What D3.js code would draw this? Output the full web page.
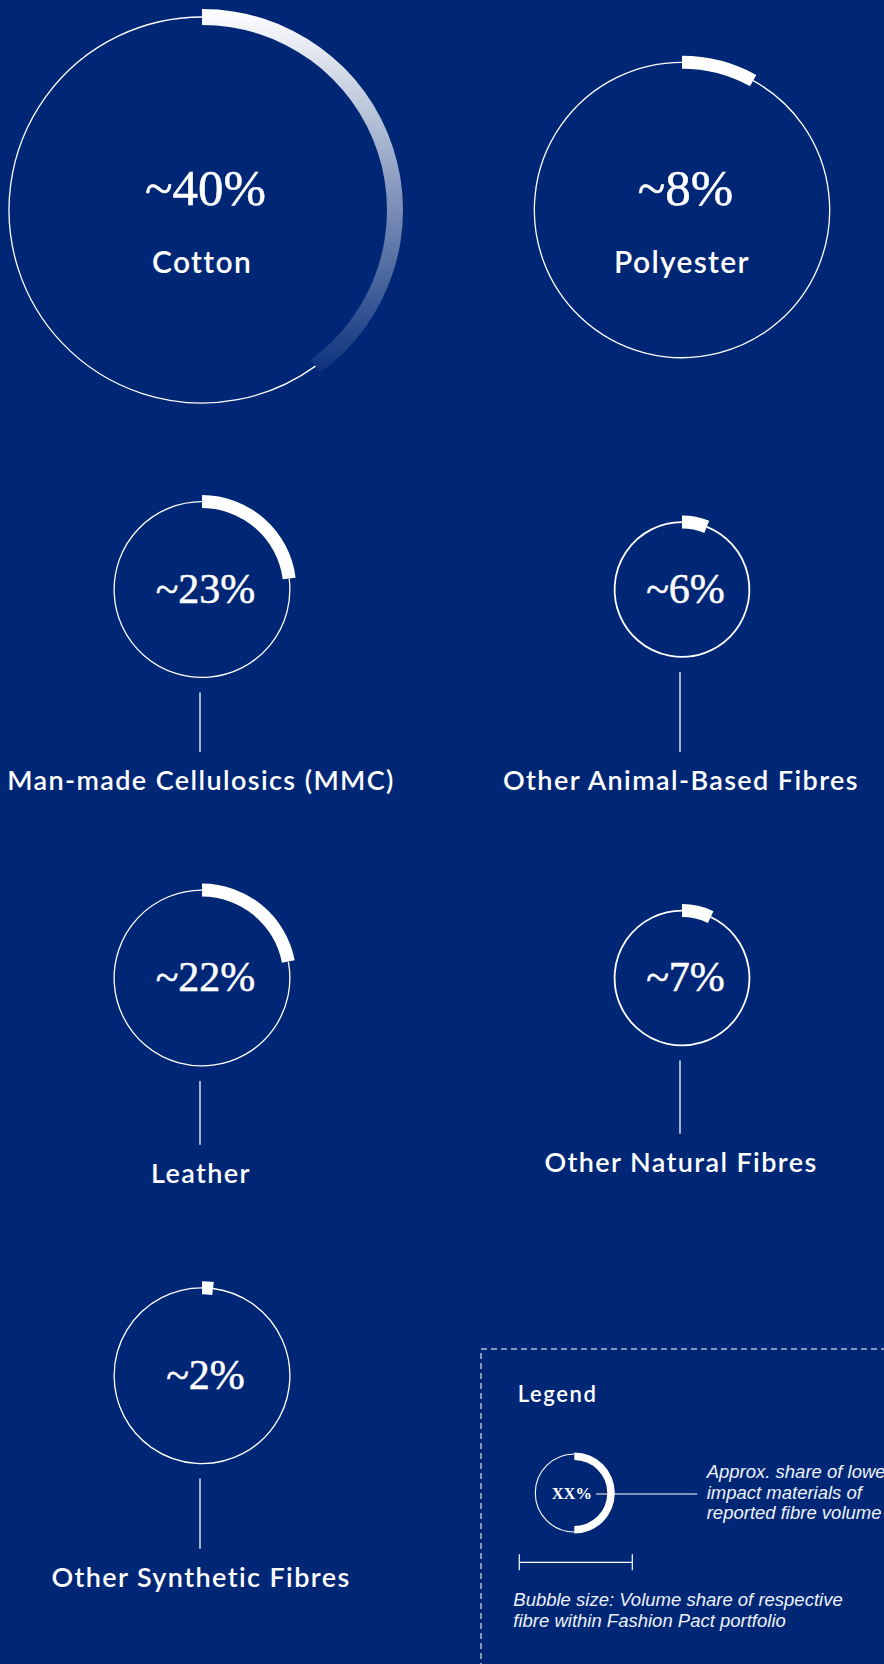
<!DOCTYPE html>
<html><head><meta charset="utf-8">
<script src="https://cdn.jsdelivr.net/npm/d3@7"></script>
<style>
html,body{margin:0;padding:0;background:#002776;}
svg{display:block;}
</style></head>
<body>
<svg id="chart" width="884" height="1664"></svg>
<script>
// ---------- data ----------
const fibres = ["Cotton","Polyester","Man-made Cellulosics (MMC)","Other Animal-Based Fibres","Leather","Other Natural Fibres","Other Synthetic Fibres"];
const lowerImpactShare = [40, 8, 23, 6, 22, 7, 2];          // % shown in each bubble (arc length)
const volumeShare = [41, 24, 8.5, 5, 8.5, 5, 8.5];
const gridColumn = ["left","right","left","right","left","right","left"];
const gridRow = [0, 0, 1, 1, 2, 2, 3];
const legendTitle = "Legend";
const legendValueLabel = "XX%";
const legendExampleShare = 50;
const legendShareText = ["Approx. share of lower","impact materials of","reported fibre volume"];
const legendSizeText = ["Bubble size: Volume share of respective","fibre within Fashion Pact portfolio"];

// ---------- layout ----------
const W = 884, H = 1664;
const labelBaseline = [null, null, 790, 790, 1182.7, 1171.7, 1586.7];
const sansFont = "Lato, 'Open Sans', sans-serif";
const serifFont = "'Liberation Serif', 'Times New Roman', Times, serif";
const italicFont = "'Liberation Sans', Arial, sans-serif";

const svg = d3.select("#chart").attr("viewBox", `0 0 ${W} ${H}`);
svg.append("rect").attr("width", W).attr("height", H).attr("fill", "#002776");

const xCol = d3.scaleOrdinal().domain(["left","right"]).range([202, 682]);
const yRow = d3.scaleOrdinal().domain([0,1,2,3]).range([210, 589.5, 978, 1375.7]);
const rScale = d3.scaleSqrt().domain([0, d3.max(volumeShare)]).range([0, 193]);
const angle = d3.scaleLinear().domain([0, 100]).range([0, 2 * Math.PI]);

const data = fibres.map((name, i) => ({
  name, share: lowerImpactShare[i], vol: volumeShare[i],
  cx: xCol(gridColumn[i]), cy: yRow(gridRow[i]), r: rScale(volumeShare[i]),
  labelY: labelBaseline[i], i
}));

const defs = svg.append("defs");

data.forEach(d => {
  const g = svg.append("g").attr("transform", `translate(${d.cx},${d.cy})`);
  const big = d.r > 120;
  const arcW = d.r > 170 ? 16 : 13;
  const a1 = angle(d.share);
  // remainder thin circle
  const p = d3.path();
  p.arc(0, 0, d.r, a1 - Math.PI / 2, 3 * Math.PI / 2);
  g.append("path").attr("d", p.toString()).attr("fill", "none")
    .attr("stroke", "#fff").attr("stroke-width", d.r < 80 ? 1.8 : 1.3);
  // share arc
  let fill = "#fff";
  if (d.share >= 30) {
    const gid = "grad" + d.i;
    const endY = -Math.cos(a1) * (d.r + arcW / 2);
    const lgr = defs.append("linearGradient").attr("id", gid)
      .attr("gradientUnits", "userSpaceOnUse")
      .attr("x1", 0).attr("y1", -d.r - arcW / 2)
      .attr("x2", 0).attr("y2", endY + 10);
    lgr.append("stop").attr("offset", 0).attr("stop-color", "#fff").attr("stop-opacity", 1);
    lgr.append("stop").attr("offset", 1).attr("stop-color", "#fff").attr("stop-opacity", 0.02);
    fill = `url(#${gid})`;
  }
  g.append("path")
    .attr("d", d3.arc().innerRadius(d.r - arcW / 2).outerRadius(d.r + arcW / 2)
      .startAngle(0).endAngle(a1)())
    .attr("fill", fill);

  // percent text
  g.append("text")
    .attr("x", 3.5).attr("y", big ? -5 : 13)
    .attr("text-anchor", "middle")
    .style("font-family", serifFont)
    .attr("font-size", big ? 51 : 42)
    .attr("fill", "#fff")
    .attr("stroke", "#fff").attr("stroke-width", 0.5)
    .text("~" + d.share + "%");

  if (big) {
    g.append("text")
      .attr("x", 0).attr("y", 62.5)
      .attr("text-anchor", "middle")
      .attr("font-family", sansFont).attr("font-weight", 600)
      .attr("font-size", 30).attr("letter-spacing", 1.3)
      .attr("fill", "#fff").text(d.name);
  } else {
    const ly = d.labelY - d.cy;
    g.append("line")
      .attr("x1", -2).attr("x2", -2)
      .attr("y1", d.r + 15).attr("y2", ly - 38)
      .attr("stroke", "#fff").attr("stroke-width", 1.3);
    g.append("text")
      .attr("x", -1).attr("y", ly)
      .attr("text-anchor", "middle")
      .attr("font-family", sansFont).attr("font-weight", 600)
      .attr("font-size", 27).attr("letter-spacing", 1.4)
      .attr("fill", "#fff").text(d.name);
  }
});

// ---------- legend ----------
const lg = svg.append("g");
lg.append("rect").attr("x", 481).attr("y", 1349).attr("width", 520).attr("height", 400)
  .attr("fill", "none").attr("stroke", "rgba(255,255,255,0.7)")
  .attr("stroke-width", 1.5).attr("stroke-dasharray", "6 4");
lg.append("text").attr("x", 517.7).attr("y", 1401.7)
  .attr("font-family", sansFont).attr("font-weight", 600).attr("font-size", 22)
  .attr("letter-spacing", 1.6).attr("fill", "#fff").text(legendTitle);

const lc = { x: 574.3, y: 1493, r: 39 };
const lgc = lg.append("g").attr("transform", `translate(${lc.x},${lc.y})`);
const la1 = angle(legendExampleShare);
const lp = d3.path();
lp.arc(0, 0, lc.r, la1 - Math.PI / 2, 3 * Math.PI / 2);
lgc.append("path").attr("d", lp.toString()).attr("fill", "none")
  .attr("stroke", "#fff").attr("stroke-width", 1.1);
lgc.append("path")
  .attr("d", d3.arc().innerRadius(lc.r - 6).outerRadius(lc.r + 1.5).startAngle(0).endAngle(la1)())
  .attr("fill", "#fff");
lgc.append("text").attr("x", -2.5).attr("y", 6.3).attr("text-anchor", "middle")
  .style("font-family", serifFont).attr("font-weight", 700).attr("font-size", 16.5)
  .attr("fill", "#fff").text(legendValueLabel);
lg.append("line").attr("x1", 596).attr("x2", 697.3).attr("y1", 1494).attr("y2", 1494)
  .attr("stroke", "#fff").attr("stroke-width", 1.2);
lg.append("text").attr("font-family", italicFont).attr("font-style", "italic")
  .attr("font-size", 18.5).attr("fill", "#eef1f8")
  .selectAll("tspan").data(legendShareText).join("tspan")
  .attr("x", 706.7).attr("y", (t, i) => 1477.7 + i * 20.8).text(t => t);

// scale bar
const sb = { x1: 519.3, x2: 632.3, y: 1562.3 };
lg.append("line").attr("x1", sb.x1).attr("x2", sb.x2).attr("y1", sb.y).attr("y2", sb.y)
  .attr("stroke", "#fff").attr("stroke-width", 1.2);
[sb.x1, sb.x2].forEach(xx => lg.append("line").attr("x1", xx).attr("x2", xx)
  .attr("y1", sb.y - 8).attr("y2", sb.y + 8).attr("stroke", "#fff").attr("stroke-width", 1.2));
lg.append("text").attr("font-family", italicFont).attr("font-style", "italic")
  .attr("font-size", 18.5).attr("fill", "#eef1f8")
  .selectAll("tspan").data(legendSizeText).join("tspan")
  .attr("x", 513.3).attr("y", (t, i) => 1606 + i * 20.7).text(t => t);
</script>
</body></html>
